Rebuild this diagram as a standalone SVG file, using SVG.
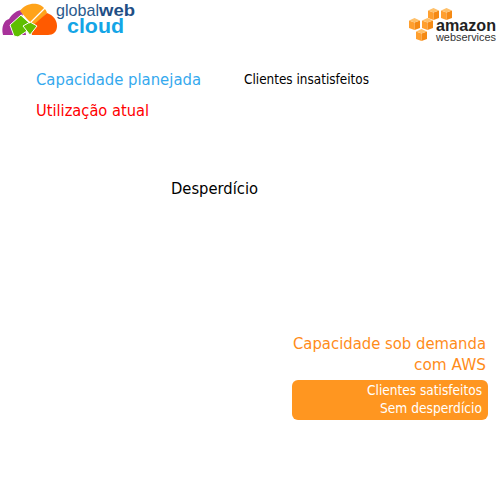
<svg xmlns="http://www.w3.org/2000/svg" width="500" height="501" viewBox="0 0 500 501">
<style>
text{font-family:"DejaVu Sans","Liberation Sans",sans-serif}
.l{font-family:"Liberation Sans",Arial,sans-serif}
.t{fill:#ffc06a}.f{fill:#ff9f2e}.s{fill:#f58a14}
.a{fill:#ff8c1a;font-size:16px}
.w{fill:#fff;font-size:14px}
.k{fill:#000}
</style>
<defs>
<g id="cube">
<path class="f" d="M0 2.500L5.500 4.500V12L0 10Z"/>
<path class="s" d="M5.500 4.500L11 2.500V10L5.500 12Z"/>
<path class="t" d="M0 2.500L5.500 0L11 2.500L5.500 4.500Z"/>
</g>
</defs>
<rect width="500" height="501" fill="#fff"/>
<g id="logo-globalweb">
<path d="M3 35C1 27 4 20 9 19C12 14 17 10 22 10L26 35Z" fill="#a8329a"/>
<path d="M20 11C24 5 31 3 37 4C42 5 46 9 47 13L34 27Z" fill="#ffa31a"/>
<path d="M47 13C53 15 57 20 57 26C57 32 53 35 48 35H32L30 28Z" fill="#ff5a00"/>
<path d="M10 25L21 15L30 23L30 29L18 37L14 36Z" fill="#5fbe00" stroke="#fff" stroke-width="1"/>
<path d="M23 26L30 22L37 26L30 35Z" fill="#63bd00" stroke="#fff" stroke-width="1"/>
<path d="M21 15L30 23M46 7L31 22" stroke="#fff" stroke-width="1.300" fill="none"/>
<text class="l" x="56" y="16" font-size="17" fill="#2a5a8c" textLength="43" lengthAdjust="spacingAndGlyphs">global</text>
<text class="l" x="99" y="16" font-size="17" font-weight="700" fill="#1f4f86" textLength="36" lengthAdjust="spacingAndGlyphs">web</text>
<text class="l" x="67" y="33" font-size="20" font-weight="700" fill="#14a5e6" textLength="57" lengthAdjust="spacingAndGlyphs">cloud</text>
</g>
<g id="logo-aws">
<use href="#cube" x="428" y="8"/>
<use href="#cube" x="441" y="8"/>
<use href="#cube" x="409" y="18"/>
<use href="#cube" x="422" y="18"/>
<use href="#cube" x="416" y="29"/>
<text class="l" x="436" y="31" font-size="17" font-weight="700" fill="#222" textLength="60" lengthAdjust="spacingAndGlyphs">amazon</text>
<text class="l" x="436" y="41" font-size="10" fill="#333" textLength="60" lengthAdjust="spacingAndGlyphs">webservices</text>
</g>
<g id="capacidade-planejada"><text x="36" y="85" font-size="16" fill="#35a9ee" textLength="165" lengthAdjust="spacingAndGlyphs">Capacidade planejada</text></g>
<g id="clientes-insatisfeitos"><text class="k" x="244" y="84" font-size="14" textLength="125" lengthAdjust="spacingAndGlyphs">Clientes insatisfeitos</text></g>
<g id="utilizacao-atual"><text x="36" y="116" font-size="16" fill="#f00" textLength="113" lengthAdjust="spacingAndGlyphs">Utilização atual</text></g>
<g id="desperdicio"><text class="k" x="171" y="194" font-size="16" textLength="87" lengthAdjust="spacingAndGlyphs">Desperdício</text></g>
<g id="capacidade-sob-demanda">
<text class="a" x="293" y="349" textLength="193" lengthAdjust="spacingAndGlyphs">Capacidade sob demanda</text>
<text class="a" x="414" y="370" textLength="72" lengthAdjust="spacingAndGlyphs">com AWS</text>
</g>
<g id="caixa-aws">
<rect x="292" y="380" width="196" height="40" rx="6" fill="#ff9620"/>
<text class="w" x="367" y="395" textLength="115" lengthAdjust="spacingAndGlyphs">Clientes satisfeitos</text>
<text class="w" x="380" y="413" textLength="102" lengthAdjust="spacingAndGlyphs">Sem desperdício</text>
</g>
</svg>
